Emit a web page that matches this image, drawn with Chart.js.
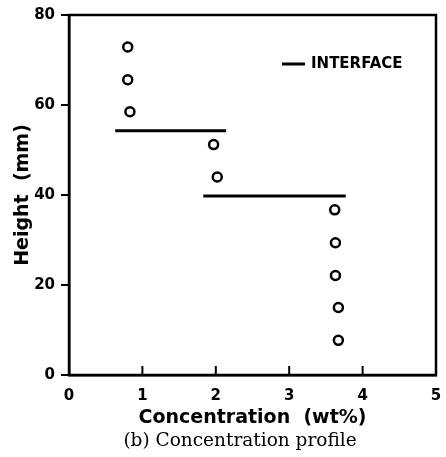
<!DOCTYPE html>
<html>
<head>
<meta charset="utf-8">
<script src="https://cdn.jsdelivr.net/npm/chart.js@4.4.0/dist/chart.umd.min.js"></script>
<style>
  html, body { margin: 0; padding: 0; background: #fff; }
  #wrap { width: 446px; height: 457px; }
</style>
</head>
<body>
<div id="wrap"><canvas id="c1" width="446" height="457"></canvas></div>
<script>
// measured points (concentration wt%, height mm)
let concX = [0.80, 0.80, 0.83, 1.97, 2.02, 3.62, 3.63, 3.63, 3.67, 3.67];
let heightY = [72.9, 65.6, 58.5, 51.2, 44.0, 36.7, 29.4, 22.1, 15.0, 7.7];

// interface lines: [x start, x end] at a height
let iface1X = [0.63, 2.14];
let iface1Y = 54.3;
let iface2X = [1.83, 3.77];
let iface2Y = 39.8;

let xTicks = [0, 1, 2, 3, 4, 5];
let yTicks = [0, 20, 40, 60, 80];

let caption = '(b) Concentration profile';

let sansBold = { family: "'DejaVu Sans', Verdana, sans-serif", weight: 'bold' };

// box + inward x ticks + the little legend + caption
let frame = {
    id: 'frame',
    afterDraw(chart) {
        let ctx = chart.ctx;
        let a = chart.chartArea;
        let xs = chart.scales.x;
        ctx.save();
        ctx.strokeStyle = '#000';
        ctx.lineWidth = 2.5;
        ctx.strokeRect(a.left, a.top, a.right - a.left, a.bottom - a.top);

        ctx.lineWidth = 2;
        xTicks.forEach(v => {
            let px = xs.getPixelForValue(v);
            ctx.beginPath();
            ctx.moveTo(px, a.bottom);
            ctx.lineTo(px, a.bottom - 9);
            ctx.stroke();
        });

        // legend "—INTERFACE"
        ctx.lineWidth = 3;
        ctx.beginPath();
        ctx.moveTo(a.right - 154, a.top + 49);
        ctx.lineTo(a.right - 131, a.top + 49);
        ctx.stroke();
        ctx.fillStyle = '#000';
        ctx.font = "bold 15px 'DejaVu Sans', Verdana, sans-serif";
        ctx.textBaseline = 'middle';
        ctx.fillText('INTERFACE', a.right - 125, a.top + 49);

        // caption under the axis title
        ctx.font = "18.5px 'DejaVu Serif', 'Liberation Serif', serif";
        ctx.textAlign = 'center';
        ctx.textBaseline = 'alphabetic';
        ctx.fillText(caption, 240, 446);
        ctx.restore();
    }
};

let c1 = document.querySelector('#c1');
let opts = {
    type: 'scatter',
    data: {
        datasets: [
            {
                label: 'data',
                data: concX.map((x, i) => ({ x: x, y: heightY[i] })),
                pointStyle: 'circle',
                pointRadius: 4.5,
                pointBorderWidth: 2.5,
                pointBackgroundColor: '#fff',
                pointBorderColor: '#000',
                showLine: false,
            },
            {
                label: 'INTERFACE',
                data: iface1X.map(x => ({ x: x, y: iface1Y })),
                showLine: true,
                borderColor: '#000',
                borderWidth: 3,
                pointRadius: 0,
            },
            {
                label: 'INTERFACE',
                data: iface2X.map(x => ({ x: x, y: iface2Y })),
                showLine: true,
                borderColor: '#000',
                borderWidth: 3,
                pointRadius: 0,
            },
        ],
    },
    options: {
        responsive: false,
        animation: false,
        devicePixelRatio: 1,
        layout: { padding: { top: 6, right: 10, left: 0, bottom: 28 } },
        plugins: {
            legend: { display: false },
            tooltip: { enabled: false },
            title: { display: false },
        },
        scales: {
            x: {
                type: 'linear',
                min: 0,
                max: 5,
                afterBuildTicks: s => { s.ticks = xTicks.map(v => ({ value: v })); },
                grid: { display: false, drawTicks: false },
                border: { display: true, color: '#000', width: 2.5 },
                ticks: { color: '#000', font: { ...sansBold, size: 15 }, padding: 12 },
                title: {
                    display: true,
                    text: 'Concentration  (wt%)',
                    color: '#000',
                    font: { ...sansBold, size: 19 },
                    padding: { top: 0, bottom: 0 },
                },
                afterFit: s => { s.height = 54; s.paddingRight = 0; s.paddingLeft = 0; },
            },
            y: {
                type: 'linear',
                min: 0,
                max: 80,
                afterBuildTicks: s => { s.ticks = yTicks.map(v => ({ value: v })); },
                grid: { drawOnChartArea: false, drawTicks: true, tickLength: 8, color: '#000', lineWidth: 2 },
                border: { display: true, color: '#000', width: 2.5 },
                ticks: { color: '#000', font: { ...sansBold, size: 15 }, padding: 6 },
                title: {
                    display: true,
                    text: 'Height  (mm)',
                    color: '#000',
                    font: { ...sansBold, size: 19 },
                    padding: { top: 12, bottom: 0 },
                },
                afterFit: s => { s.width = 69; },
            },
        },
    },
    plugins: [frame],
};

let chart1 = new Chart(c1, opts);
</script>
</body>
</html>
